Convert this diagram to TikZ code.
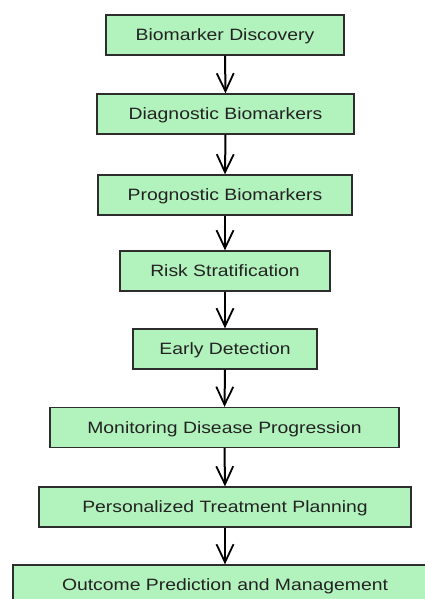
\documentclass[tikz,border=0pt]{standalone}
\usepackage{fontspec}
\setmainfont{Liberation Sans}[FakeStretch=1.18]
\usetikzlibrary{arrows.meta}
\definecolor{boxfill}{RGB}{178,242,188}
\definecolor{boxline}{RGB}{45,45,45}
\definecolor{txt}{RGB}{35,35,35}
\tikzset{
  stepbox/.style={draw=boxline, line width=1.3pt, fill=boxfill, rectangle, minimum height=40pt, inner sep=0pt, text height=11.7pt, text depth=0pt, text=txt, font=\fontsize{16.4}{19}\selectfont},
  flowarrow/.style={draw=black, line width=2pt, -{Straight Barb[length=18pt,width=17pt,line width=1.8pt]}}
}
\begin{document}
\begin{tikzpicture}[x=1pt,y=-1pt]
\useasboundingbox (0,0) rectangle (425,599);
\node[stepbox, minimum width=238pt] (b1) at (225,35) {Biomarker Discovery};
\node[stepbox, minimum width=257pt] (b2) at (225.5,114) {Diagnostic Biomarkers};
\node[stepbox, minimum width=254pt] (b3) at (225,195) {Prognostic Biomarkers};
\node[stepbox, minimum width=210pt] (b4) at (225,271) {Risk Stratification};
\node[stepbox, minimum width=184pt] (b5) at (225,349) {Early Detection};
\node[stepbox, minimum width=349pt] (b6) at (224.5,427.5) {Monitoring Disease Progression};
\node[stepbox, minimum width=372pt] (b7) at (225,507) {Personalized Treatment Planning};
\node[stepbox, minimum width=432pt] (b8) at (229,585) {\hspace*{-8pt}Outcome Prediction and Management};
\foreach \a/\b in {b1/b2,b2/b3,b3/b4,b4/b5,b5/b6,b6/b7}
  \draw[flowarrow] (\a.south) -- (\b.north);
\draw[flowarrow] (b7.south) -- (b7.south |- b8.north);
\end{tikzpicture}
\end{document}
